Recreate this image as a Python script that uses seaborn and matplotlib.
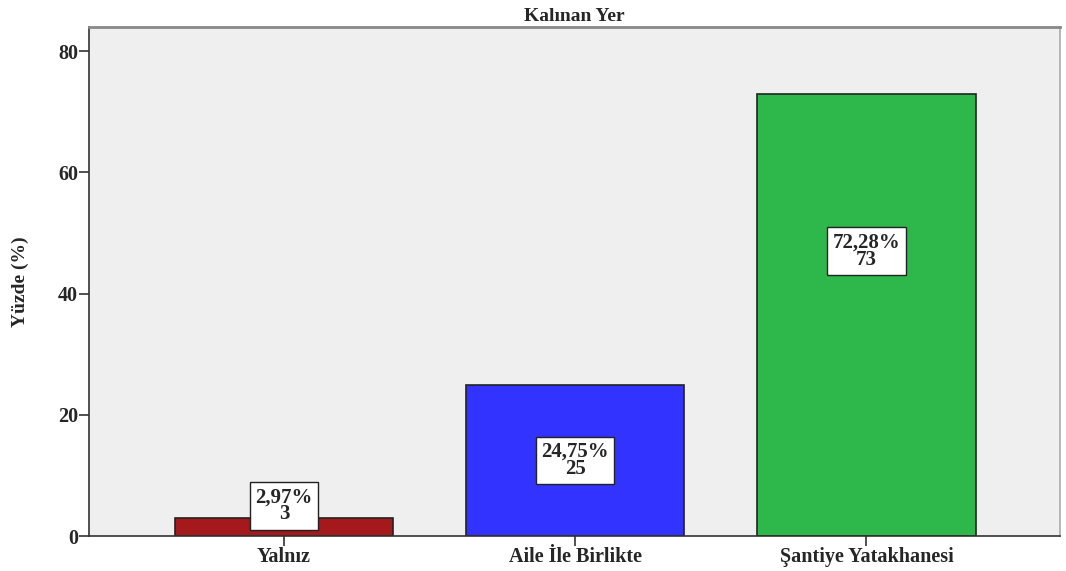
import numpy as np
import pandas as pd
import seaborn as sns
import matplotlib.pyplot as plt

# data
categories = ["Yalnız", "Aile İle Birlikte", "Şantiye Yatakhanesi"]
counts = [3, 25, 73]
percents = [2.97, 24.75, 72.28]
bar_colors = ["#a5181b", "#3333ff", "#2eb84b"]

df = pd.DataFrame({"Kalınan Yer": categories, "Sayı": counts})

sns.set_style("white")
plt.rcParams["font.family"] = ["Liberation Serif", "DejaVu Serif"]
plt.rcParams["font.weight"] = "bold"

fig = plt.figure(figsize=(10.66, 5.71), dpi=100)
ax = fig.add_axes([0.0835, 0.061, 0.911, 0.892])
ax.set_facecolor("#efefef")

sns.barplot(data=df, x="Kalınan Yer", y="Sayı", hue="Kalınan Yer",
            palette=bar_colors, saturation=1, width=0.75, edgecolor="#222222",
            linewidth=1.2, legend=False, ax=ax)

ax.set_xlim(-0.67, 2.665)
ax.set_ylim(0, 84)
ax.set_yticks([0, 20, 40, 60, 80])
ax.tick_params(axis="both", length=7, width=1.2, color="#333333",
               labelsize=14.5, direction="out", bottom=True, left=True, pad=1)
for lab in ax.get_xticklabels() + ax.get_yticklabels():
    lab.set_fontweight("bold")

ax.set_xlabel("")
ax.set_ylabel("Yüzde (%)", fontsize=14, fontweight="bold")
ax.yaxis.set_label_coords(-0.062, 0.5)
ax.set_title("Kalınan Yer", fontsize=14, fontweight="bold", pad=4)

for side in ["left", "bottom"]:
    ax.spines[side].set_color("#333333")
    ax.spines[side].set_linewidth(1.2)
ax.spines["top"].set_color("#888888")
ax.spines["top"].set_linewidth(2)
ax.spines["right"].set_color("#aaaaaa")
ax.spines["right"].set_linewidth(1.2)

# label boxes inside bars
label_y = [5, 12.5, 47]
for i, (p, c) in enumerate(zip(percents, counts)):
    txt = f"{p:.2f}%".replace(".", ",") + f"\n{c}"
    ax.text(i, label_y[i], txt, ha="center", va="center", fontsize=15,
            fontweight="bold", linespacing=0.8,
            bbox=dict(boxstyle="square,pad=0.25", fc="white", ec="#222222", lw=1))

fig.savefig("out.png", dpi=100)
